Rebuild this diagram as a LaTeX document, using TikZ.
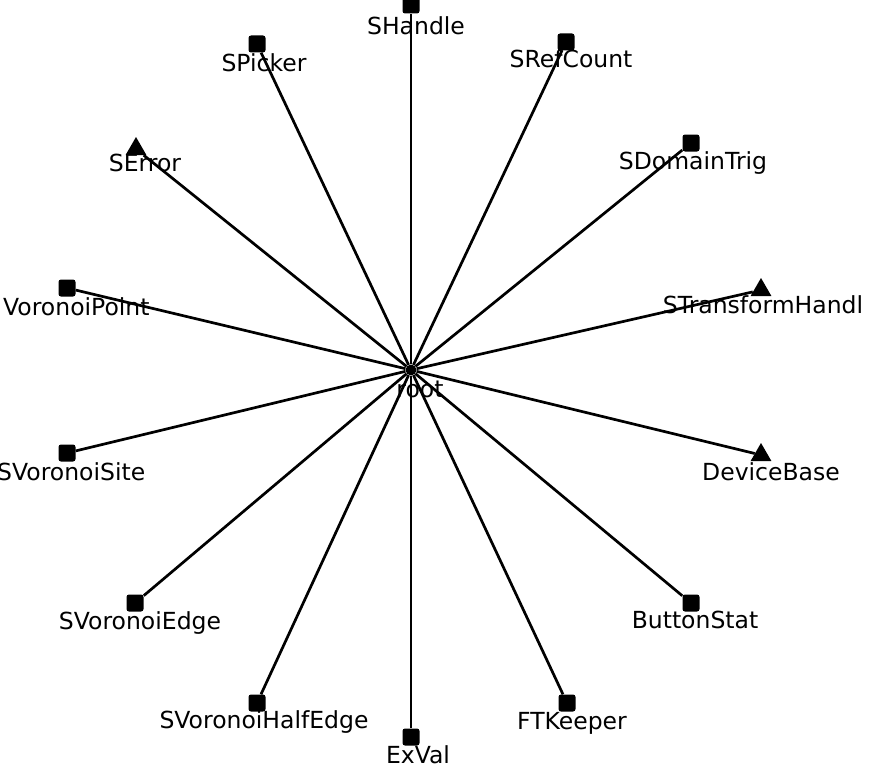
\documentclass[tikz,border=0pt]{standalone}
\usepackage{fontspec}
\setmainfont{DejaVu Sans}
\usetikzlibrary{shapes.geometric}
\begin{document}
\begin{tikzpicture}[
        x=1pt, y=-1pt,
        sq/.style={fill, rectangle, rounded corners=2.5pt, minimum size=17pt, inner sep=0pt},
        tri/.style={fill, regular polygon, regular polygon sides=3, minimum size=24pt, inner sep=0pt},
        hub/.style={fill, circle, minimum size=11pt, inner sep=0pt},
        lbl/.style={anchor=base, inner sep=0pt, font=\fontsize{23.5}{28}\selectfont},
        ln/.style={line width=2.7pt},
    ]
    \useasboundingbox (0,0) rectangle (869,768);

    \node[hub](root) at (411,370) {};
    \node[sq](handle) at (411,5) {};
    \node[sq](refcount) at (566,42) {};
    \node[sq](domaintrig) at (691,143) {};
    \node[tri](transform) at (761,290) {};
    \node[tri](devicebase) at (761,455) {};
    \node[sq](buttonstat) at (691,603) {};
    \node[sq](ftkeeper) at (567,703) {};
    \node[sq](exval) at (411,737) {};
    \node[sq](halfedge) at (257,703) {};
    \node[sq](edge) at (135,603) {};
    \node[sq](site) at (67,453) {};
    \node[sq](point) at (67,288) {};
    \node[tri](error) at (136,149) {};
    \node[sq](picker) at (257,44) {};

    % labels
    \node[lbl] at ([shift={(9,27)}]root) {root};
    \node[lbl] at ([shift={(5,30)}]handle) {SHandle};
    \node[lbl] at ([shift={(5,25)}]refcount) {SRefCount};
    \node[lbl] at ([shift={(2,26)}]domaintrig) {SDomainTrig};
    \node[lbl] at ([shift={(2,23)}]transform) {STransformHandl};
    \node[lbl] at ([shift={(10,25)}]devicebase) {DeviceBase};
    \node[lbl] at ([shift={(4,25)}]buttonstat) {ButtonStat};
    \node[lbl] at ([shift={(5,26)}]ftkeeper) {FTKeeper};
    \node[lbl] at ([shift={(7,26)}]exval) {ExVal};
    \node[lbl] at ([shift={(7,25)}]halfedge) {SVoronoiHalfEdge};
    \node[lbl] at ([shift={(5,26)}]edge) {SVoronoiEdge};
    \node[lbl, anchor=base west] at (-3,480) {SVoronoiSite};
    \node[lbl, anchor=base west] at (3,315) {VoronoiPoint};
    \node[lbl] at ([shift={(9,22)}]error) {SError};
    \node[lbl] at ([shift={(7,27)}]picker) {SPicker};

    \path[ln]
    (root) edge (handle) edge (refcount) edge (domaintrig) edge (transform)
           edge (devicebase) edge (buttonstat) edge (ftkeeper) edge (exval)
           edge (halfedge) edge (edge) edge (site) edge (point)
           edge (error) edge (picker)
    ;
\end{tikzpicture}
\end{document}
